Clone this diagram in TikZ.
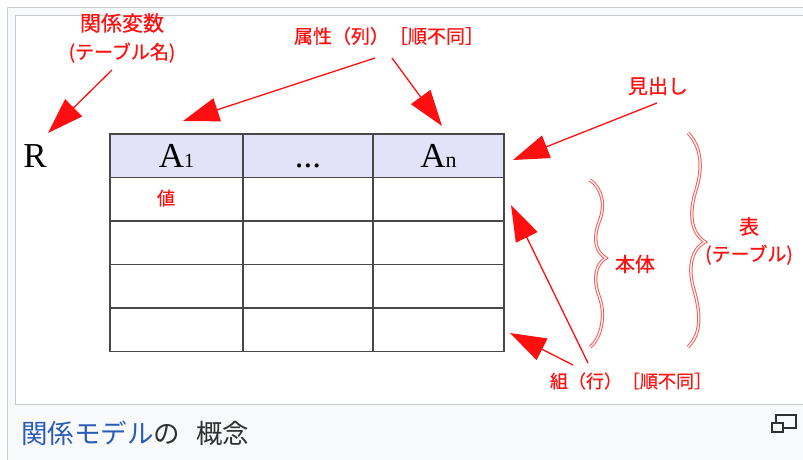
\documentclass[tikz,border=0pt]{standalone}
\usepackage{fontspec}
\setmainfont{Liberation Serif}
\newfontfamily\jp{Noto Sans CJK JP}
\newfontfamily\jpm{Noto Sans CJK JP}[FakeBold=0.6]
\usetikzlibrary{arrows.meta}
\definecolor{frameline}{HTML}{C8CCD1}
\definecolor{framebg}{HTML}{F8F9FA}
\definecolor{hdr}{HTML}{E2E2F8}
\definecolor{gridc}{HTML}{484848}
\definecolor{lab}{HTML}{FF1010}
\definecolor{linkc}{HTML}{2A5CB5}
\definecolor{captxt}{HTML}{303030}
\begin{document}
\begin{tikzpicture}[x=1pt,y=-1pt,
  cell/.style={draw=gridc,line width=1.4pt,inner sep=0pt,outer sep=0pt,anchor=north west,minimum height=43.5pt},
  hcell/.style={cell,fill=hdr,text height=22.5pt,text depth=0pt,font=\fontsize{35}{35}\selectfont},
  lbl/.style={text=lab,font=\jpm\fontsize{18}{27}\selectfont,inner sep=0pt,align=center},
  arr/.style={draw=lab,line width=1.3pt,-{Triangle[length=36pt,width=24pt]}},
  bracec/.style={draw=lab!70,double=white,double distance=1.3pt,line width=1pt},
  icon/.style={draw=captxt,line width=1.4pt}
]
\useasboundingbox (0,0) rectangle (803,460);
\fill[white] (0,0) rectangle (803,460);
\draw[frameline, fill=framebg, line width=1pt] (7.5,7.5) rectangle (812,470);
\draw[frameline, fill=white, line width=1pt] (15.5,15.5) rectangle (812,404);

% table
\node[hcell,minimum width=133pt] (h1) at (110,134) {A\fontsize{20}{20}\selectfont 1};
\node[hcell,minimum width=130pt] (h2) at (243,134) {...};
\node[hcell,minimum width=131pt] (h3) at (373,134) {A\fontsize{22}{22}\selectfont n};
\foreach \r/\y in {1/177.5,2/221,3/264.5,4/308}{
  \node[cell,minimum width=133pt] (r\r c1) at (110,\y) {};
  \node[cell,minimum width=130pt] (r\r c2) at (243,\y) {};
  \node[cell,minimum width=131pt] (r\r c3) at (373,\y) {};
}
\node[lbl] (val) at (166,198) {値};

\node[font=\fontsize{35}{35}\selectfont,inner sep=0pt] (R) at (35,156) {R};

% labels
\node[lbl,font=\jpm\fontsize{21}{28}\selectfont] (relvar) at (122,38) {関係変数\\{\fontsize{19}{19}\selectfont(テーブル名)}};
\node[lbl,font=\jpm\fontsize{19}{27}\selectfont] (attr) at (389,36) {属性（列）［順不同］};
\node[lbl,font=\jpm\fontsize{20}{27}\selectfont] (midashi) at (658,86) {見出し};
\node[lbl,font=\jpm\fontsize{20}{27}\selectfont] (hontai) at (635,264) {本体};
\node[lbl,font=\jpm\fontsize{19}{27}\selectfont] (hyo) at (749,241) {{\fontsize{20}{20}\selectfont 表}\\(テーブル)};
\node[lbl,font=\jpm\fontsize{18}{27}\selectfont] (kumi) at (631,381) {組（行）［順不同］};

% arrows
\coordinate (s1) at (112,70);  \coordinate (t1) at (48,133);
\coordinate (s2) at (375,58);  \coordinate (t2) at (183,121);
\coordinate (s3) at (392,58);  \coordinate (t3) at (442,126);
\coordinate (s4) at (657,103); \coordinate (t4) at (513,160);
\coordinate (s5) at (588,363); \coordinate (t5) at (511,205);
\coordinate (s6) at (573,365); \coordinate (t6) at (510,333);
\draw[arr] (s1) -- (t1);
\draw[arr] (s2) -- (t2);
\draw[arr] (s3) -- (t3);
\draw[arr] (s4) -- (t4);
\draw[arr] (s5) -- (t5);
\draw[arr] (s6) -- (t6);

% braces
\draw[bracec] (590,180) .. controls (602,188) and (606,205) .. (599,222)
  .. controls (593,238) and (595,252) .. (606,258)
  .. controls (595,264) and (593,280) .. (599,296)
  .. controls (606,313) and (602,338) .. (590,347);
\draw[bracec] (688,133) .. controls (700,145) and (704,165) .. (696,190)
  .. controls (689,212) and (690,232) .. (705,242)
  .. controls (690,250) and (688,270) .. (694,290)
  .. controls (702,318) and (700,335) .. (688,347);

% caption
\node[anchor=base west,inner sep=0pt,font=\jp\fontsize{26.5}{26.5}\selectfont] (caption) at (21,443)
  {\textcolor{linkc}{関係モデル}\textcolor{captxt}{の\hspace{16pt}概念}};
\draw[icon] (776,415) rectangle (796,428);
\draw[icon,fill=framebg] (772,423) rectangle (783,432);
\end{tikzpicture}
\end{document}
